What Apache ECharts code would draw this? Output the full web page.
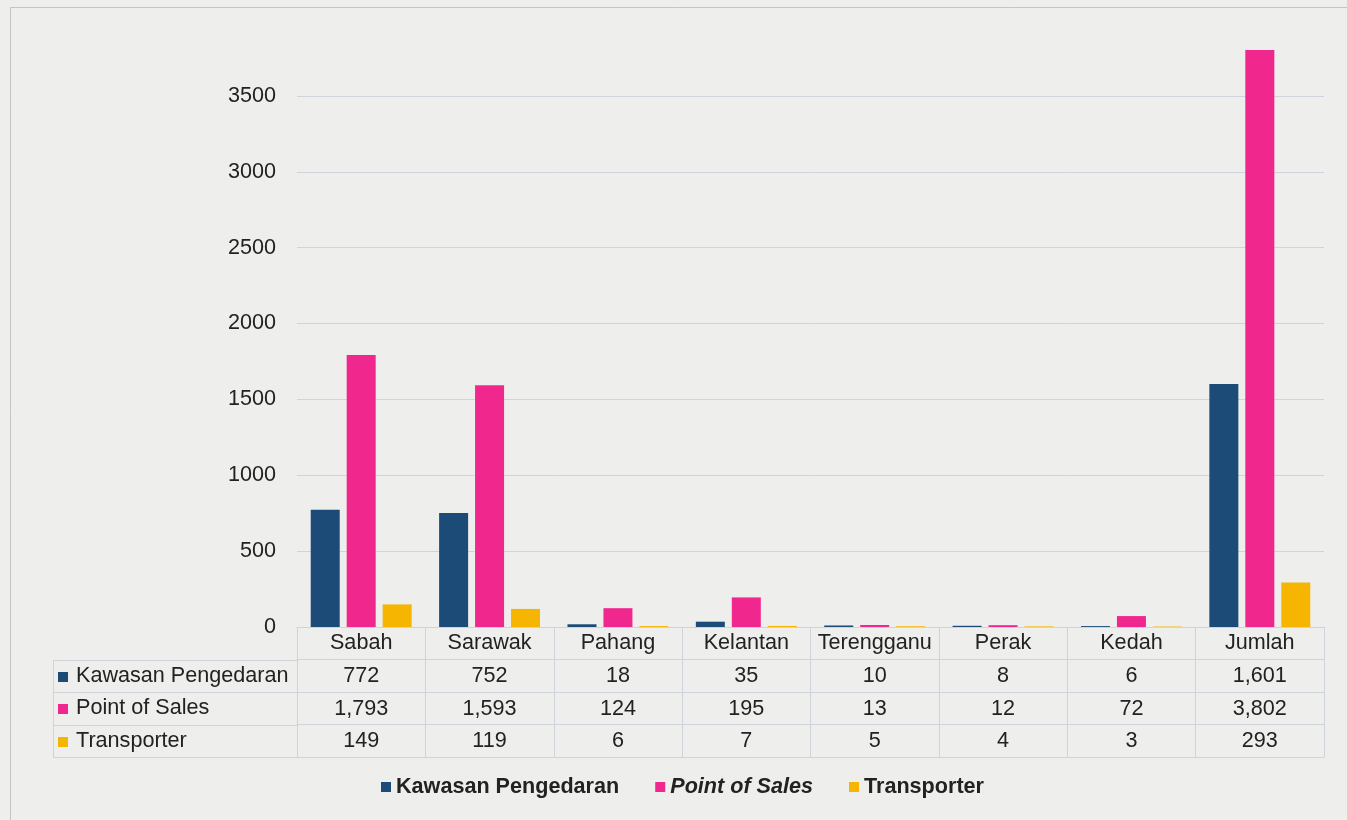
<!DOCTYPE html>
<html>
<head>
<meta charset="utf-8">
<title>Kawasan Pengedaran, Point of Sales dan Transporter</title>
<script src="https://cdn.jsdelivr.net/npm/echarts@6/dist/echarts.min.js"></script>
<style>
  html, body { margin: 0; padding: 0; background: #eeeeec; }
  #chart { width: 1347px; height: 820px; }
</style>
</head>
<body>
<div id="chart"></div>
<script>
// States shown on the category axis, plus the total column
const categories = ['Sabah', 'Sarawak', 'Pahang', 'Kelantan', 'Terengganu', 'Perak', 'Kedah', 'Jumlah'];

// Series values per state
const seriesNames = ['Kawasan Pengedaran', 'Point of Sales', 'Transporter'];
const kawasanPengedaran = [772, 752, 18, 35, 10, 8, 6, 1601];
const pointOfSales = [1793, 1593, 124, 195, 13, 12, 72, 3802];
const transporter = [149, 119, 6, 7, 5, 4, 3, 293];

// Value axis range
const yMin = 0;
const yMax = 4000;
const yInterval = 500;

const seriesData = [kawasanPengedaran, pointOfSales, transporter];
const colors = ['#1d4b77', '#f0288e', '#f6b500'];

const FONT = "'Liberation Sans', Arial, sans-serif";
const FS = 21.6;
const TEXT = '#222222';
const LINE = '#cfd3dc';

// Layout of the plot and the data table beneath it
const GRID = { left: 297, right: 23, top: 20, bottom: 193 };
const ROW_H = 32.5;
const AXIS_Y = 820 - GRID.bottom;      // y of the category axis line
const TABLE_LEFT = 53;

const fmt = v => v.toLocaleString('en-US');

// Category header + one axis per series row acting as table rows
const xAxes = [{
  type: 'category',
  data: categories,
  position: 'bottom',
  axisLine: { lineStyle: { color: LINE, width: 1 } },
  axisTick: { show: true, length: ROW_H, lineStyle: { color: LINE } },
  axisLabel: { interval: 0, margin: 5, fontSize: FS, color: TEXT, fontFamily: FONT }
}];
seriesData.forEach((vals, i) => {
  xAxes.push({
    type: 'category',
    data: vals.map(fmt),
    position: 'bottom',
    offset: ROW_H * (i + 1),
    axisLine: { lineStyle: { color: LINE, width: 1 } },
    axisTick: { show: true, length: ROW_H, lineStyle: { color: LINE } },
    axisLabel: { interval: 0, margin: 6, fontSize: FS, color: TEXT, fontFamily: FONT }
  });
});
// closing bottom line of the table
xAxes.push({
  type: 'category',
  data: categories,
  position: 'bottom',
  offset: ROW_H * 4,
  axisLine: { lineStyle: { color: LINE, width: 1 } },
  axisTick: { show: false },
  axisLabel: { show: false }
});

// Left column of the table: row keys and labels
const tableGraphics = [];
const rowTop = AXIS_Y + ROW_H;
for (let i = 0; i <= 3; i++) {
  const y = Math.round(rowTop + ROW_H * i) + 0.5;
  tableGraphics.push({
    type: 'line',
    shape: { x1: TABLE_LEFT, y1: y, x2: GRID.left, y2: y },
    style: { stroke: LINE, lineWidth: 1 },
    silent: true
  });
}
tableGraphics.push({
  type: 'line',
  shape: { x1: TABLE_LEFT + 0.5, y1: Math.round(rowTop) + 0.5, x2: TABLE_LEFT + 0.5, y2: Math.round(rowTop + ROW_H * 3) + 0.5 },
  style: { stroke: LINE, lineWidth: 1 },
  silent: true
});
seriesNames.forEach((name, i) => {
  const cy = rowTop + ROW_H * i + ROW_H / 2;
  tableGraphics.push({
    type: 'rect',
    shape: { x: 58, y: Math.round(cy - 4), width: 10, height: 10 },
    style: { fill: colors[i] },
    silent: true
  });
  tableGraphics.push({
    type: 'text',
    x: 76,
    y: cy,
    style: {
      text: name,
      fill: TEXT,
      font: FS + 'px ' + FONT,
      textVerticalAlign: 'middle'
    },
    silent: true
  });
});

// Outer frame of the chart area
tableGraphics.push({
  type: 'rect',
  shape: { x: 10.5, y: 7.5, width: 1400, height: 900 },
  style: { fill: 'none', stroke: '#c4c4c4', lineWidth: 1 },
  silent: true,
  z: -1
});

const chart = echarts.init(document.getElementById('chart'), null, { renderer: 'canvas' });

chart.setOption({
  backgroundColor: '#eeeeec',
  animation: false,
  textStyle: { fontFamily: FONT },
  grid: GRID,
  legend: {
    left: 381,
    top: 776,
    padding: 0,
    selectedMode: false,
    itemWidth: 10,
    itemHeight: 10,
    itemGap: 36,
    icon: 'rect',
    textStyle: { fontSize: FS, fontWeight: 'bold', color: TEXT, fontFamily: FONT },
    data: [
      { name: seriesNames[0] },
      { name: seriesNames[1], textStyle: { fontStyle: 'italic', fontWeight: 'bold' } },
      { name: seriesNames[2] }
    ]
  },
  xAxis: xAxes,
  yAxis: {
    type: 'value',
    min: yMin,
    max: yMax,
    interval: yInterval,
    axisLine: { show: false },
    axisTick: { show: false },
    axisLabel: {
      showMaxLabel: false,
      margin: 21,
      fontSize: FS,
      color: TEXT,
      fontFamily: FONT,
      formatter: v => String(v)
    },
    splitLine: { showMaxLine: false, lineStyle: { color: LINE, width: 1 } }
  },
  series: seriesNames.map((name, i) => ({
    name,
    type: 'bar',
    xAxisIndex: 0,
    data: seriesData[i],
    barWidth: 29,
    barGap: '24%',
    itemStyle: { color: colors[i] }
  })),
  graphic: tableGraphics
});
</script>
</body>
</html>
